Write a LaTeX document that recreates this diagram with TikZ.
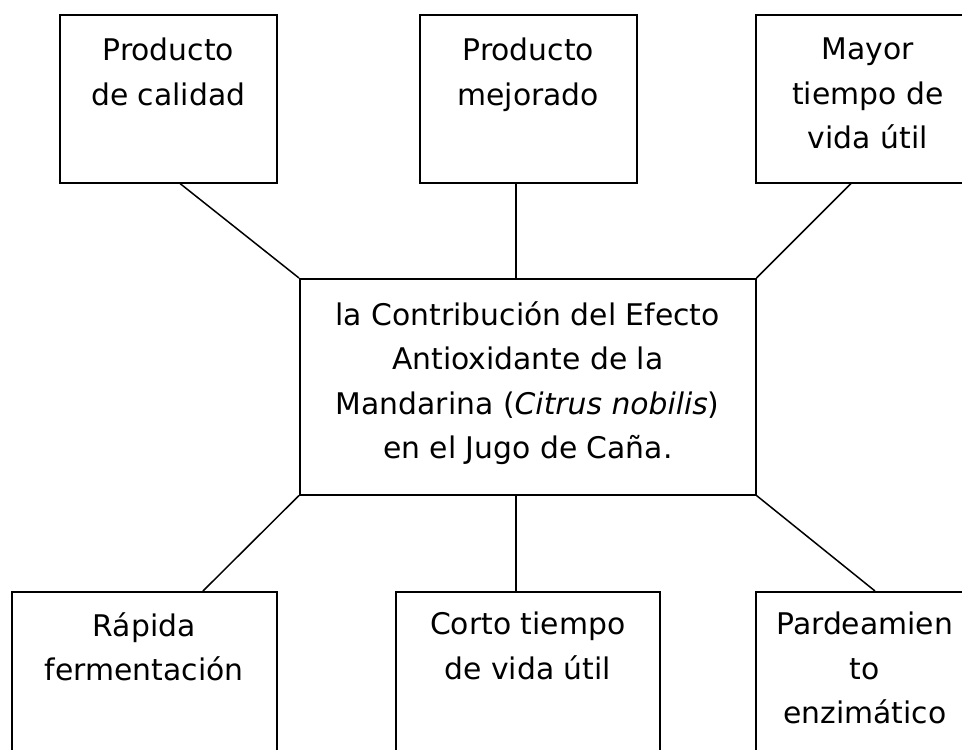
\documentclass[tikz,border=0pt]{standalone}
\usepackage{fontspec}
\setmainfont{DejaVu Sans}
\usetikzlibrary{calc}
\tikzset{
  box/.style={draw=black, line width=1.5pt, rectangle, inner sep=0pt, anchor=north west},
  txt/.style={align=center, inner sep=0pt, anchor=north, font=\fontsize{29.8}{44.5}\selectfont},
  conn/.style={draw=black, line width=1.5pt}
}
\begin{document}
\begin{tikzpicture}[x=1pt, y=-1pt]
\useasboundingbox (0,0) rectangle (962,750);
\fill[white] (0,0) rectangle (962,750);
\begin{scope}
\clip (0,0) rectangle (962,750);
% top boxes
\node[box, minimum width=217pt, minimum height=168pt] (tl) at (59,14) {};
\node[box, minimum width=217pt, minimum height=168pt] (tm) at (419,14) {};
\node[box, minimum width=224pt, minimum height=168pt] (tr) at (755,14) {};
% center
\node[box, minimum width=456pt, minimum height=216pt] (c) at (299,278) {};
% bottom boxes
\node[box, minimum width=265pt, minimum height=200pt] (bl) at (11,591) {};
\node[box, minimum width=264pt, minimum height=200pt] (bm) at (395,591) {};
\node[box, minimum width=218pt, minimum height=200pt] (br) at (755,591) {};
% texts
\node[txt] (tlt) at ($(tl.north)+(0,24)$) {Producto\\de calidad};
\node[txt] (tmt) at ($(tm.north)+(0,24)$) {Producto\\mejorado};
\node[txt] (trt) at ($(tr.north)+(0,24)$) {Mayor\\tiempo de\\vida útil};
\node[txt] (ct) at ($(c.north)+(0,23)$) {la Contribución del Efecto\\Antioxidante de la\\Mandarina (\textit{Citrus nobilis})\\en el Jugo de Caña.};
\node[txt] (blt) at ($(bl.north)+(0,21)$) {Rápida\\fermentación};
\node[txt] (bmt) at ($(bm.north)+(0,21)$) {Corto tiempo\\de vida útil};
\node[txt] (brt) at ($(br.north)+(0,21)$) {Pardeamien\\to\\enzimático};
% connectors
\draw[conn] ([xshift=121pt]tl.south west) -- (c.north west);
\draw[conn] ([xshift=97pt]tm.south west) -- ([xshift=217pt]c.north west);
\draw[conn] ([xshift=96pt]tr.south west) -- (c.north east);
\draw[conn] ([xshift=192pt]bl.north west) -- (c.south west);
\draw[conn] ([xshift=121pt]bm.north west) -- ([xshift=217pt]c.south west);
\draw[conn] ([xshift=120pt]br.north west) -- (c.south east);
\end{scope}
\end{tikzpicture}
\end{document}
